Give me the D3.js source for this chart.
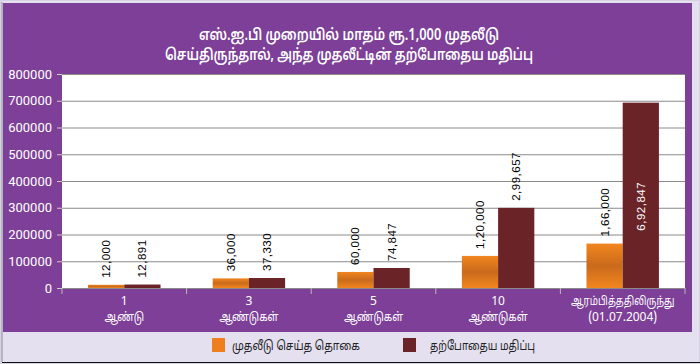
<!DOCTYPE html>
<html>
<head>
<meta charset="utf-8">
<script src="https://cdn.jsdelivr.net/npm/d3@7"></script>
<style>
  html, body { margin: 0; padding: 0; background: #e4e0f0; }
  svg { display: block; font-family: "Noto Sans Tamil", "Noto Sans", "Lato", sans-serif; }
</style>
</head>
<body>
<div id="chart"></div>
<script>
const titleLines = ['எஸ்.ஐ.பி முறையில் மாதம் ரூ.1,000 முதலீடு', 'செய்திருந்தால், அந்த முதலீட்டின் தற்போதைய மதிப்பு'];
const periods = ['1', '3', '5', '10', 'ஆரம்பித்ததிலிருந்து'];
const periodSub = ['ஆண்டு', 'ஆண்டுகள்', 'ஆண்டுகள்', 'ஆண்டுகள்', '(01.07.2004)'];
const invested = [12000, 36000, 60000, 120000, 166000];
const investedLabels = ['12,000', '36,000', '60,000', '1,20,000', '1,66,000'];
const current = [12891, 37330, 74847, 299657, 692847];
const currentLabels = ['12,891', '37,330', '74,847', '2,99,657', '6,92,847'];
const seriesNames = ['முதலீடு செய்த தொகை', 'தற்போதைய மதிப்பு'];
const yTicks = [0, 100000, 200000, 300000, 400000, 500000, 600000, 700000, 800000];

const W = 700, H = 364;
const margin = { top: 74, right: 15, bottom: 76, left: 62 };
const width = W - margin.left - margin.right;
const height = H - margin.top - margin.bottom;

const svg = d3.select('#chart').append('svg')
  .attr('width', W)
  .attr('height', H);

// the reference uses a narrow Tamil face, squeeze ours to match
function squeeze(sel, factor) {
  sel.each(function () {
    if (!/[\u0B80-\u0BFF]/.test(this.textContent)) return;
    const len = this.getComputedTextLength();
    d3.select(this)
      .attr('textLength', len * factor)
      .attr('lengthAdjust', 'spacingAndGlyphs');
  });
}

// gradient for the orange bars
const defs = svg.append('defs');
const grad = defs.append('linearGradient')
  .attr('id', 'orangeGrad')
  .attr('x1', 0).attr('y1', 0).attr('x2', 0).attr('y2', 1);
grad.append('stop').attr('offset', '0%').attr('stop-color', '#f2861f');
grad.append('stop').attr('offset', '50%').attr('stop-color', '#c96a1c');
grad.append('stop').attr('offset', '100%').attr('stop-color', '#f2861f');

// frame
svg.append('rect')
  .attr('x', 0.5).attr('y', 0.5)
  .attr('width', W - 1).attr('height', H - 1)
  .attr('fill', '#e4e0f0')
  .attr('stroke', '#d6d2e6');
svg.append('line')
  .attr('x1', 2).attr('x2', 2).attr('y1', 2).attr('y2', 362)
  .attr('stroke', '#888');
svg.append('line')
  .attr('x1', 2).attr('x2', 700).attr('y1', 362.5).attr('y2', 362.5)
  .attr('stroke', '#111');

// purple panel
svg.append('rect')
  .attr('x', 3).attr('y', 3)
  .attr('width', 689).attr('height', 329)
  .attr('fill', '#7d3f97');

// title
const titleWidths = [300, 368];
svg.selectAll('.title')
  .data(titleLines)
  .enter()
  .append('text')
  .attr('x', 349)
  .attr('y', (d, i) => 40 + i * 20)
  .attr('text-anchor', 'middle')
  .attr('fill', '#fff')
  .attr('font-size', '15.5px')
  .attr('font-weight', '600')
  .attr('textLength', (d, i) => titleWidths[i])
  .attr('lengthAdjust', 'spacingAndGlyphs')
  .text(d => d);

const g = svg.append('g').attr('transform', `translate(${margin.left},${margin.top})`);

// white plot area
g.append('rect')
  .attr('width', width)
  .attr('height', height)
  .attr('fill', '#fff');

const x0 = d3.scaleBand()
  .domain(periods)
  .range([0, width])
  .paddingInner(0)
  .paddingOuter(0);

const x1 = d3.scaleBand()
  .domain([0, 1])
  .range([0, x0.bandwidth()])
  .paddingInner(0)
  .paddingOuter(0.72);

const y = d3.scaleLinear()
  .domain([0, 800000])
  .range([height, 0]);

// grid lines
g.append('g')
  .attr('class', 'grid')
  .call(d3.axisLeft(y).tickValues(yTicks).tickSize(-width).tickFormat(''))
  .call(a => a.select('.domain').remove())
  .selectAll('line')
  .attr('stroke', '#8a8a8a')
  .attr('stroke-width', 1);

// y axis labels and ticks
const yAxis = g.append('g')
  .call(d3.axisLeft(y).tickValues(yTicks).tickSize(5).tickPadding(5).tickFormat(d3.format('d')));
yAxis.select('.domain').remove();
yAxis.selectAll('line').attr('stroke', '#ccc');
yAxis.selectAll('text')
  .attr('fill', '#fff')
  .attr('font-size', '13px')
  .attr('font-family', '"Liberation Sans Narrow", "Roboto", sans-serif');

// x axis ticks at band boundaries
g.append('g')
  .attr('transform', `translate(0,${height})`)
  .selectAll('line')
  .data(periods.concat(['end']))
  .enter()
  .append('line')
  .attr('x1', (d, i) => i * x0.step())
  .attr('x2', (d, i) => i * x0.step())
  .attr('y1', 0).attr('y2', 6)
  .attr('stroke', '#bbb');

// bars
const groups = g.selectAll('.group')
  .data(periods)
  .enter()
  .append('g')
  .attr('transform', d => `translate(${x0(d)},0)`);

groups.append('rect')
  .attr('x', x1(0))
  .attr('width', x1.bandwidth())
  .attr('y', (d, i) => y(invested[i]))
  .attr('height', (d, i) => height - y(invested[i]))
  .attr('fill', 'url(#orangeGrad)');

groups.append('rect')
  .attr('x', x1(1))
  .attr('width', x1.bandwidth())
  .attr('y', (d, i) => y(current[i]))
  .attr('height', (d, i) => height - y(current[i]))
  .attr('fill', '#6a2327');

// value labels, rotated
function addLabels(values, labels, s) {
  groups.append('text')
    .attr('transform', (d, i) => {
      const cx = x1(s) + x1.bandwidth() / 2;
      const inside = y(values[i]) < 60;
      const ty = inside ? y(values[i]) + 128 : y(values[i]) - 7;
      return `translate(${cx + 4},${ty}) rotate(-90)`;
    })
    .attr('text-anchor', 'start')
    .attr('font-size', '11.5px')
    .attr('font-family', '"Liberation Sans", Arial, sans-serif')
    .attr('letter-spacing', '0.5px')
    .attr('fill', (d, i) => y(values[i]) < 60 ? '#fff' : '#000')
    .text((d, i) => labels[i]);
}
addLabels(invested, investedLabels, 0);
addLabels(current, currentLabels, 1);

// category labels (two lines)
const xl = g.append('g').attr('transform', `translate(0,${height})`);
xl.selectAll('.cat')
  .data(periods)
  .enter()
  .append('text')
  .attr('x', d => x0(d) + x0.bandwidth() / 2)
  .attr('y', 17)
  .attr('text-anchor', 'middle')
  .attr('fill', '#fff')
  .attr('font-size', '12px')
  .text(d => d)
  .call(squeeze, 0.8);
xl.selectAll('.sub')
  .data(periodSub)
  .enter()
  .append('text')
  .attr('x', (d, i) => x0(periods[i]) + x0.bandwidth() / 2)
  .attr('y', 33)
  .attr('text-anchor', 'middle')
  .attr('fill', '#fff')
  .attr('font-size', '12px')
  .text(d => d)
  .call(squeeze, 0.85);

// legend
const legendColors = ['#ef7f1e', '#6a2327'];
const legendX = [212, 403];
const legendTextWidths = [128, 105];
const legend = svg.selectAll('.legend')
  .data(seriesNames)
  .enter()
  .append('g')
  .attr('transform', (d, i) => `translate(${legendX[i]},338)`);
legend.append('rect')
  .attr('width', 13)
  .attr('height', 14)
  .attr('fill', (d, i) => legendColors[i]);
legend.append('text')
  .attr('x', (d, i) => i === 0 ? 20 : 27)
  .attr('y', 11.5)
  .attr('font-size', '12.5px')
  .attr('fill', '#222')
  .attr('textLength', (d, i) => legendTextWidths[i])
  .attr('lengthAdjust', 'spacingAndGlyphs')
  .text(d => d);
</script>
</body>
</html>
